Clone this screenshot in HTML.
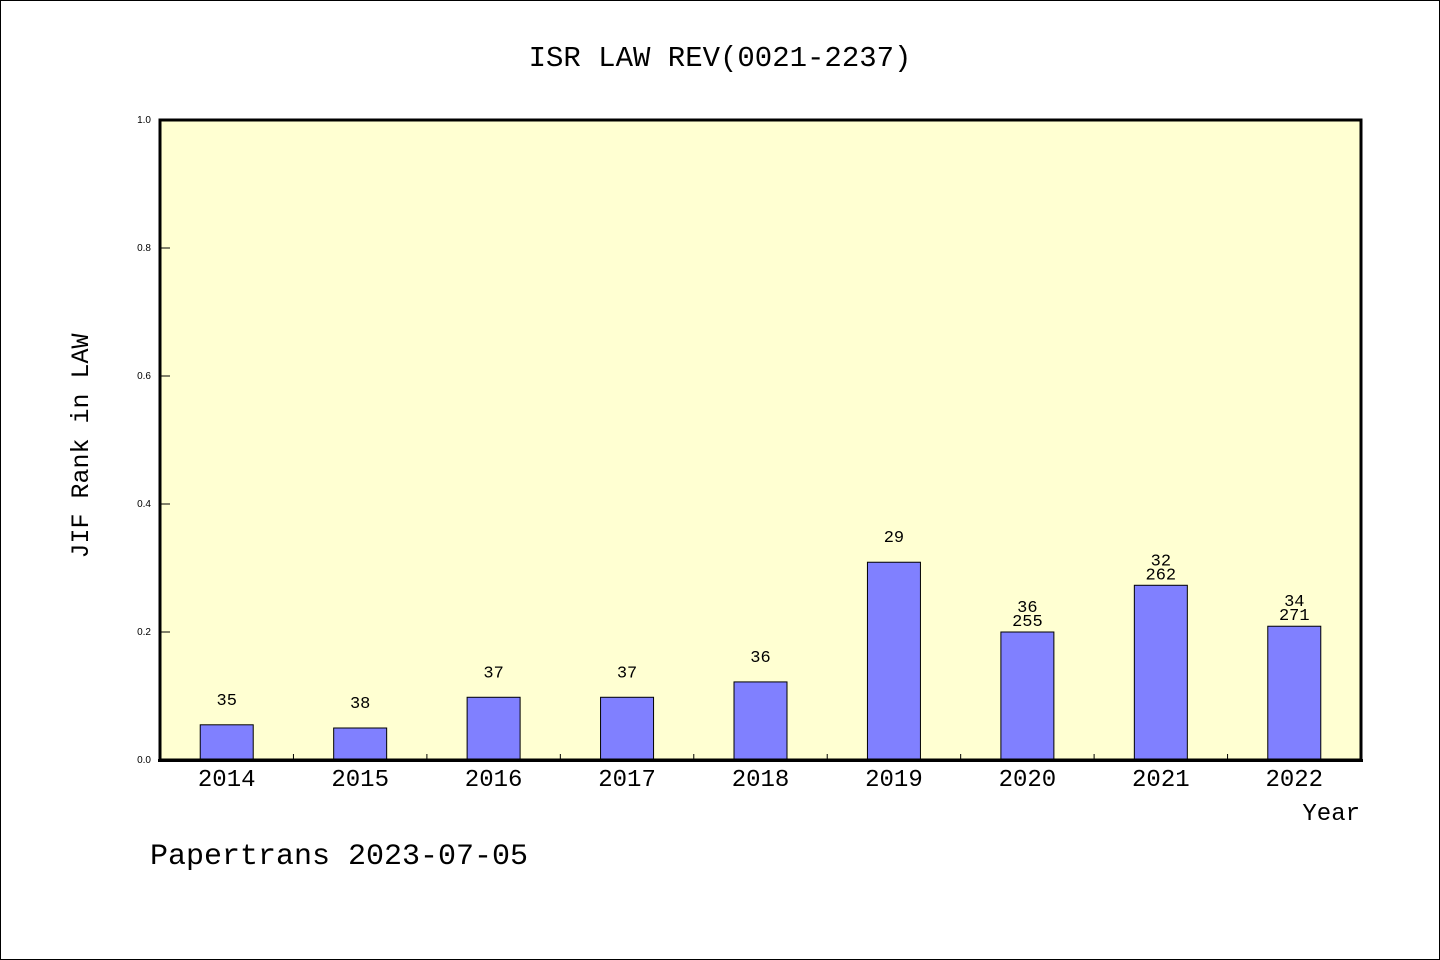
<!DOCTYPE html>
<html><head><meta charset="utf-8">
<style>
html,body{margin:0;padding:0;background:#fff;}
svg{display:block;}
text{font-family:"Liberation Mono","DejaVu Sans Mono",monospace;fill:#000;}
</style></head>
<body>
<svg id="chart" width="1440" height="960" xmlns="http://www.w3.org/2000/svg">
<rect x="0.5" y="0.5" width="1439" height="959" fill="#fff" stroke="#000" stroke-width="1"/>
<text x="720" y="66" text-anchor="middle" font-size="29">ISR LAW REV(0021-2237)</text>
<rect x="160" y="120" width="1201" height="640" fill="#ffffd2"/>
<g id="bars"></g>
<g id="axes"></g>
<rect x="160" y="120" width="1201" height="640" fill="none" stroke="#000" stroke-width="3"/>
<line x1="158" y1="760.5" x2="1363" y2="760.5" stroke="#000" stroke-width="3"/>
<text x="1360" y="820" text-anchor="end" font-size="24">Year</text>
<text transform="translate(88,446) rotate(-90)" text-anchor="middle" font-size="25">JIF Rank in LAW</text>
<text x="150" y="864" font-size="30">Papertrans 2023-07-05</text>
</svg>
<script>
const years = ["2014","2015","2016","2017","2018","2019","2020","2021","2022"];
const values = [0.055,0.05,0.098,0.098,0.122,0.309,0.2,0.273,0.209];
const ranks = ["35","38","37","37","36","29","36","32","34"];
const totals = ["","","","","","","255","262","271"];
const yTicks = [0,0.2,0.4,0.6,0.8,1.0];
const yTickLabels = ["0.0","0.2","0.4","0.6","0.8","1.0"];

const NS="http://www.w3.org/2000/svg";
const L=160,R=1361,T=120,B=760;
const band=(R-L)/years.length;
const xC=i=>L+band*(i+0.5);
const yS=v=>B-(v/1.0)*(B-T);
const bars=document.getElementById('bars');
const axes=document.getElementById('axes');
function mk(tag,attrs,parent){const e=document.createElementNS(NS,tag);for(const k in attrs)e.setAttribute(k,attrs[k]);parent.appendChild(e);return e;}

years.forEach((yr,i)=>{
  const bw=53, top=yS(values[i]);
  const r=mk('rect',{x:xC(i)-bw/2,y:top,width:bw,height:B-top,fill:'#8080ff',stroke:'#000','stroke-width':1},bars);
  
  
  const t1=mk('text',{x:xC(i),y:top-20,'text-anchor':'middle','font-size':17},bars);
  t1.textContent=ranks[i];
  
  
  if(totals[i]){
    const t2=mk('text',{x:xC(i),y:top-6,'text-anchor':'middle','font-size':17},bars);
    t2.textContent=totals[i];
    
    
  }
  const xl=mk('text',{x:xC(i),y:786,'text-anchor':'middle','font-size':24},axes);
  xl.textContent=yr;
  
  
  if(i>0){
    const tk=mk('line',{x1:L+band*i,y1:B,x2:L+band*i,y2:B-6,stroke:'#000','stroke-width':1},axes);
    
    
  }
});
yTicks.forEach((v,i)=>{
  const y=yS(v);
  const tk=mk('line',{x1:L,y1:y,x2:L+10,y2:y,stroke:'#000','stroke-width':1},axes);
  
  
  const tl=mk('text',{x:151,y:y+3,'text-anchor':'end','font-size':10,style:'font-family:"Liberation Sans",sans-serif'},axes);
  tl.textContent=yTickLabels[i];
  
  
});
</script>
</body></html>
